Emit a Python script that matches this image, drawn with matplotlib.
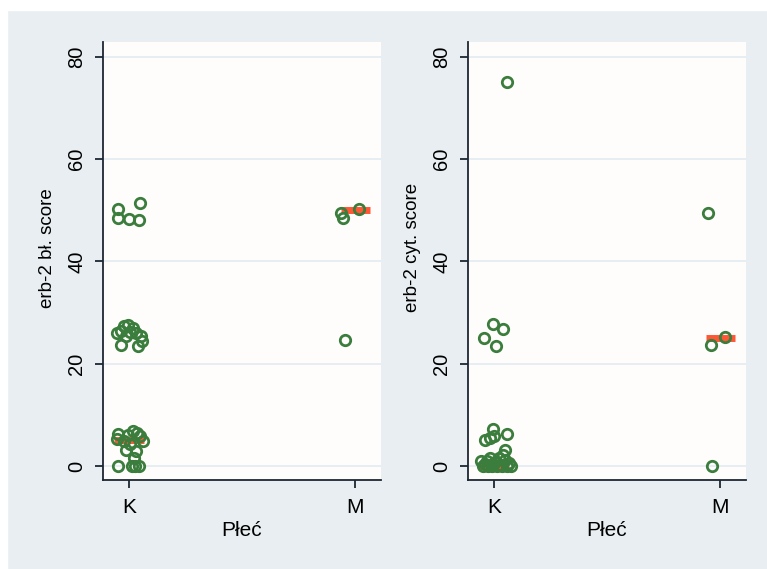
import matplotlib
matplotlib.use("Agg")
import matplotlib.pyplot as plt
from matplotlib.patches import Rectangle

plt.rcParams['font.family'] = ['Liberation Sans', 'DejaVu Sans']

categories = ['K', 'M']
y_ticks = [0, 20, 40, 60, 80]
x_label = 'Płeć'
y_labels = ['erb-2 bł. score', 'erb-2 cyt. score']

# Left panel: erb-2 bł. score  (jitter offsets, category units)
bl_K_values = [50.3, 48.5, 48.3, 48.1, 51.5,
               26.0, 26.5, 27.3, 27.6, 25.4, 23.7, 27.0, 26.0, 25.4, 24.5, 23.5, 26.2,
               6.3, 5.2, 4.8, 6.0, 6.8, 6.5, 5.8, 4.8, 4.3, 3.2, 3.0, 1.6, 0.0, 0.0, 0.0, 0.0]
bl_K_jitter = [-0.049, -0.049, 0.0, 0.044, 0.049,
               -0.053, -0.035, -0.022, -0.004, -0.013, -0.035, 0.018, 0.031, 0.053, 0.058, 0.040, 0.004,
               -0.049, -0.053, -0.022, -0.004, 0.018, 0.035, 0.049, 0.062, 0.004, -0.013, 0.031, 0.022, -0.049, 0.013, 0.027, 0.044]
bl_M_values = [49.5, 48.6, 50.2, 24.7]
bl_M_jitter = [-0.062, -0.053, 0.018, -0.044]
bl_medians = [5.0, 50.0]

# Right panel: erb-2 cyt. score
cyt_K_values = [75.1, 27.8, 26.8, 25.0, 23.5,
                7.2, 6.3, 5.0, 5.4, 5.8, 3.2, 2.2,
                1.0, 0.4, 1.5, 0.8, 0.2, 1.2, 0.5, 0.0, 0.0, 0.0, 0.0, 0.0, 0.0, 0.0, 0.9, 1.6, 0.3]
cyt_K_jitter = [0.058, -0.004, 0.040, -0.044, 0.009,
                -0.004, 0.058, -0.040, -0.018, 0.0, 0.049, 0.040,
                -0.058, -0.040, -0.018, 0.004, 0.027, 0.049, 0.066, -0.049, -0.027, -0.009, 0.013, 0.035, 0.058, 0.075, -0.031, 0.022, -0.004]
cyt_M_values = [49.5, 23.7, 25.2, 0.0]
cyt_M_jitter = [-0.053, -0.040, 0.022, -0.035]
cyt_medians = [0.0, 25.0]

BG = '#e8eef1'
GREEN = '#3a7d3c'
RED = '#ff3a12'
GRID = '#e1ebf2'
SPINE = '#1c2733'

W, H = 767, 569
fig = plt.figure(figsize=(W / 100, H / 100), dpi=100, facecolor=BG)
# white margin on top and left
fig.patches.append(Rectangle((0, 1 - 10 / H), 1, 10 / H, transform=fig.transFigure, color='white', zorder=0))
fig.patches.append(Rectangle((0, 0), 7 / W, 1, transform=fig.transFigure, color='white', zorder=0))


def panel(left_px, kv, kj, mv, mj, meds, ylabel):
    ax = fig.add_axes([left_px / W, (H - 480) / H, 278 / W, 438 / H])
    ax.set_facecolor('#fffdfc')
    ax.set_xlim(-0.115, 1.113)
    ax.set_ylim(-2.74, 82.93)
    for i, (vals, jit) in enumerate([(kv, kj), (mv, mj)]):
        ax.hlines(meds[i], i - 0.065, i + 0.065, color=RED, lw=5, alpha=0.85, zorder=2)
        ax.plot([i + j for j in jit], vals, linestyle='none', marker='o',
                markersize=7.5, markerfacecolor='none', markeredgecolor=GREEN,
                markeredgewidth=2.0, zorder=3)
    ax.set_xticks([0, 1])
    ax.set_xticklabels(categories, fontsize=15)
    ax.set_yticks(y_ticks)
    ax.set_yticklabels([str(t) for t in y_ticks], fontsize=14.5, rotation=90, va='center')
    ax.tick_params(axis='both', direction='out', length=6, width=1.3, color=SPINE)
    ax.tick_params(axis='x', pad=7)
    ax.tick_params(axis='y', pad=6)
    ax.grid(axis='y', color=GRID, lw=1.2)
    ax.set_axisbelow(True)
    for s in ['top', 'right']:
        ax.spines[s].set_visible(False)
    for s in ['left', 'bottom']:
        ax.spines[s].set_color(SPINE)
        ax.spines[s].set_linewidth(1.3)
    ax.set_xlabel(x_label, fontsize=15, labelpad=3)
    ax.set_ylabel(ylabel, fontsize=13.5, labelpad=5)
    ax.yaxis.set_label_coords(-0.17, 0.53)
    return ax


panel(103, bl_K_values, bl_K_jitter, bl_M_values, bl_M_jitter, bl_medians, y_labels[0])
panel(468, cyt_K_values, cyt_K_jitter, cyt_M_values, cyt_M_jitter, cyt_medians, y_labels[1])

fig.savefig('out.png', dpi=100, facecolor=BG)
